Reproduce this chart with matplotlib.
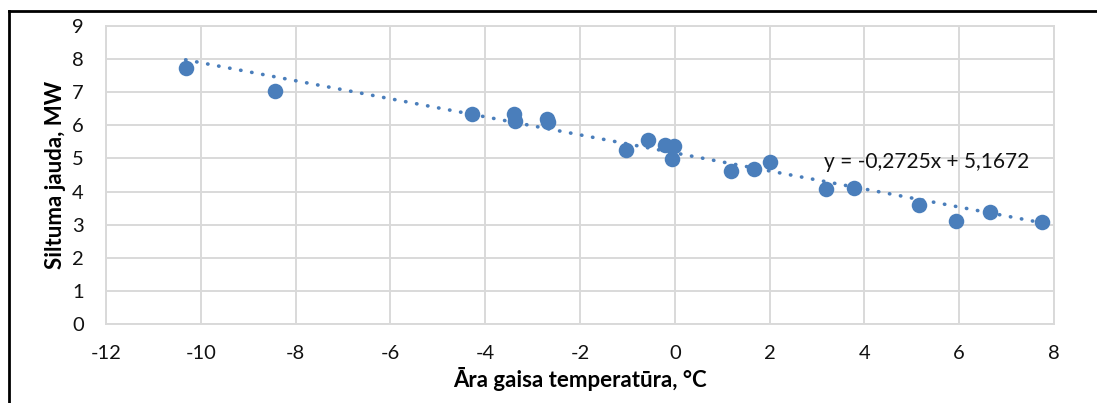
import numpy as np
import matplotlib.pyplot as plt
from matplotlib.lines import Line2D

# air temperature, degC
temperature = [-10.32, -8.44, -4.27, -3.39, -3.37, -2.69, -2.67,
               -1.02, -0.57, -0.20, -0.01, -0.06, 1.18, 1.68, 2.00,
               3.19, 3.78, 5.15, 5.94, 6.64, 7.74]
# heat load, MW
heat_load = [7.74, 7.05, 6.33, 6.33, 6.14, 6.20, 6.11,
             5.27, 5.57, 5.42, 5.37, 4.99, 4.62, 4.67, 4.89,
             4.09, 4.12, 3.58, 3.11, 3.38, 3.08]

trend_slope = -0.2725
trend_intercept = 5.1672
x_ticks = [-12, -10, -8, -6, -4, -2, 0, 2, 4, 6, 8]
y_ticks = list(range(0, 10))

blue = "#4a7ebb"
grid_grey = "#d9d9d9"

plt.rcParams["font.family"] = ["Lato", "DejaVu Sans"]
plt.rcParams["axes.unicode_minus"] = False

fig = plt.figure(figsize=(10.97, 4.03), dpi=100)
ax = fig.add_axes([106 / 1097, 1 - 324 / 403, (1054 - 106) / 1097, (324 - 26) / 403])

ax.scatter(temperature, heat_load, s=125, color=blue, zorder=3, linewidths=0)

trend_x = np.array([min(temperature), x_ticks[-1]])
ax.plot(trend_x, trend_slope * trend_x + trend_intercept, color=blue,
        linewidth=2.6, linestyle=(0, (0.1, 3.0)), dash_capstyle="round", zorder=2)

ax.text(3.15, 4.88, "y = -0,2725x + 5,1672", fontsize=15, va="center",
        ha="left", color="#111111")

ax.set_xlim(x_ticks[0], x_ticks[-1])
ax.set_ylim(y_ticks[0], y_ticks[-1])
ax.set_xticks(x_ticks)
ax.set_yticks(y_ticks)
ax.tick_params(length=0, labelsize=14.5, colors="#111111")
ax.tick_params(axis="x", pad=15)
ax.tick_params(axis="y", pad=16)
ax.grid(True, color=grid_grey, linewidth=1.4)
ax.set_axisbelow(True)
for side in ax.spines.values():
    side.set_color(grid_grey)
    side.set_linewidth(1.4)

ax.set_xlabel("Āra gaisa temperatūra, °C", fontsize=16, fontweight="bold", labelpad=4)
ax.set_ylabel("Siltuma jauda, MW", fontsize=16, fontweight="bold", labelpad=4)

# chart frame (only top and left edges visible in the crop)
fig.add_artist(Line2D([9 / 1097, 1], [1 - 11 / 403, 1 - 11 / 403], color="black",
                      linewidth=2, transform=fig.transFigure))
fig.add_artist(Line2D([9 / 1097, 9 / 1097], [0, 1 - 11 / 403], color="black",
                      linewidth=2, transform=fig.transFigure))

fig.savefig("out.png", dpi=100)
